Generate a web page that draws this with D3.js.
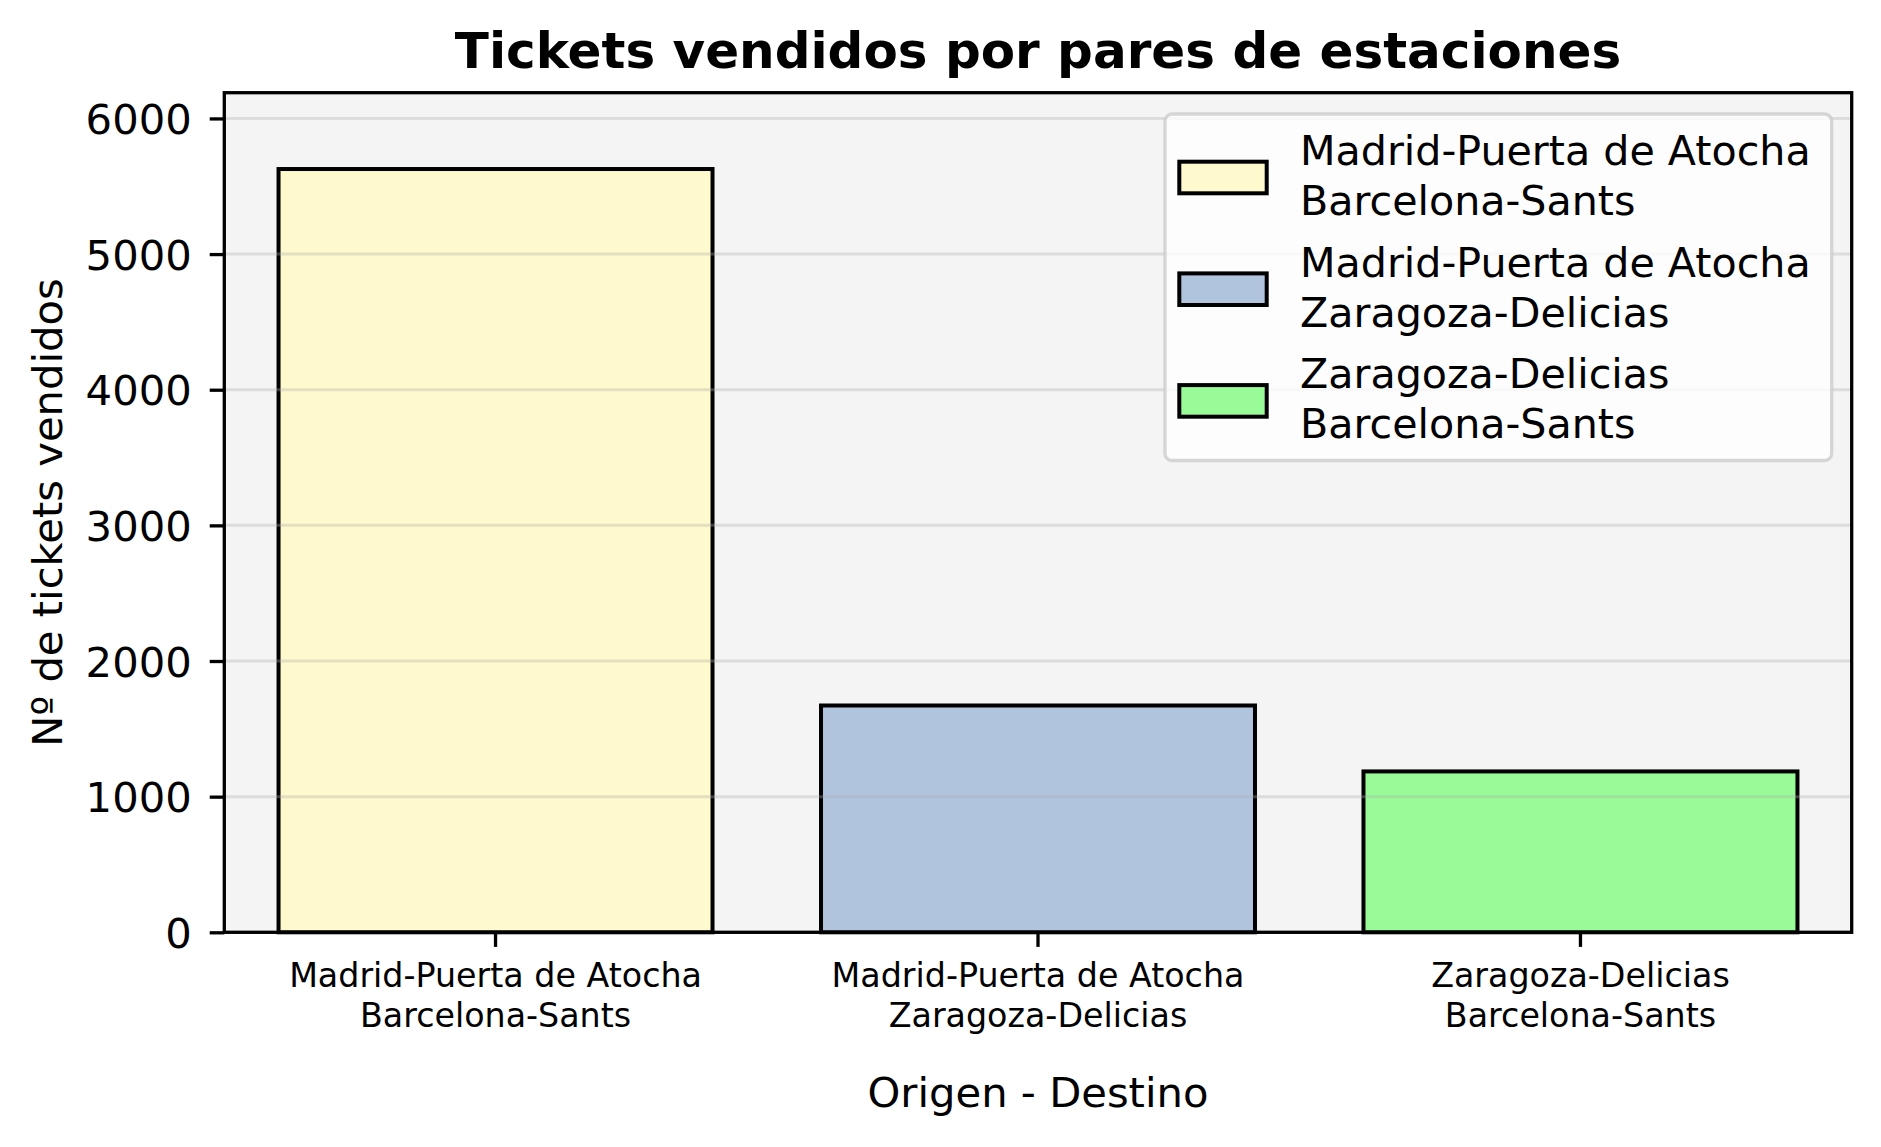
<!DOCTYPE html>
<html><head><meta charset="utf-8">
<script src="https://cdn.jsdelivr.net/npm/d3@7"></script>
<style>
body{margin:0;background:#fff;}
text{font-family:"DejaVu Sans",sans-serif;fill:#000;}
</style>
</head><body>
<svg id="c" width="1881" height="1147"></svg>
<script>
const categories = ["Madrid-Puerta de Atocha\nBarcelona-Sants", "Madrid-Puerta de Atocha\nZaragoza-Delicias", "Zaragoza-Delicias\nBarcelona-Sants"];
const tickets = [5627, 1672, 1186];
const barColors = ["#fffacd", "#b0c4de", "#98fb98"];
const yTicks = [0, 1000, 2000, 3000, 4000, 5000, 6000];
const titleText = "Tickets vendidos por pares de estaciones";
const xLabelText = "Origen - Destino";
const yLabelText = "Nº de tickets vendidos";

const L = 224.3, R = 1851.7, T = 92.7, B = 932.3;
const svg = d3.select("#c");

const x = d3.scaleBand().domain(categories).range([L, R]).paddingInner(0.2).paddingOuter(0.1);
const y = d3.scaleLinear().domain([0, d3.max(tickets) * 1.1]).range([B, T]);

// axes background
svg.append("rect").attr("x", L).attr("y", T).attr("width", R - L).attr("height", B - T).attr("fill", "#f4f4f4");

// bars
svg.append("g").selectAll("rect").data(categories).join("rect")
  .attr("x", d => x(d))
  .attr("y", (d, i) => y(tickets[i]))
  .attr("width", x.bandwidth())
  .attr("height", (d, i) => y(0) - y(tickets[i]))
  .attr("fill", (d, i) => barColors[i])
  .attr("stroke", "#000").attr("stroke-width", 4);

// grid (above bars, like matplotlib)
svg.append("g").selectAll("line").data(yTicks).join("line")
  .attr("x1", L).attr("x2", R)
  .attr("y1", d => y(d)).attr("y2", d => y(d))
  .attr("stroke", "#b0b0b0").attr("stroke-opacity", 0.35).attr("stroke-width", 3);

// y axis
const yAxis = svg.append("g").attr("transform", `translate(${L},0)`)
  .call(d3.axisLeft(y).tickValues(yTicks).tickSize(14.6).tickPadding(18).tickFormat(d3.format("d")));
yAxis.select(".domain").remove();
yAxis.selectAll(".tick line").attr("stroke", "#000").attr("stroke-width", 3.3);
yAxis.selectAll(".tick text").attr("font-size", "41.7px").attr("font-family", "DejaVu Sans").attr("dy", "0.36em");

// x axis
const xAxis = svg.append("g").attr("transform", `translate(0,${B})`)
  .call(d3.axisBottom(x).tickSize(14.6).tickFormat(""));
xAxis.select(".domain").remove();
xAxis.selectAll(".tick line").attr("stroke", "#000").attr("stroke-width", 3.3);
xAxis.selectAll(".tick text").remove();
xAxis.selectAll(".tick").each(function(d) {
  const t = d3.select(this).append("text").attr("text-anchor", "middle")
    .attr("font-size", "33.3px").attr("font-family", "DejaVu Sans").attr("fill", "#000");
  d.split("\n").forEach((line, i) => {
    t.append("tspan").attr("x", 0).attr("y", 55 + i * 39.5).text(line);
  });
});

// spines
svg.append("rect").attr("x", L).attr("y", T).attr("width", R - L).attr("height", B - T)
  .attr("fill", "none").attr("stroke", "#000").attr("stroke-width", 3.3);

// legend
const lg = svg.append("g");
lg.append("rect").attr("x", 1165).attr("y", 114).attr("width", 666.7).attr("height", 346.5)
  .attr("rx", 7).attr("fill", "#fff").attr("fill-opacity", 0.8)
  .attr("stroke", "#cccccc").attr("stroke-opacity", 0.8).attr("stroke-width", 3.3);
categories.forEach((c, i) => {
  const oy = i * 111.7;
  lg.append("rect").attr("x", 1179.3).attr("y", 161.7 + oy).attr("width", 87.4).attr("height", 31.6)
    .attr("fill", barColors[i]).attr("stroke", "#000").attr("stroke-width", 4);
  const t = lg.append("text").attr("font-size", "41.2px").attr("font-family", "DejaVu Sans");
  c.split("\n").forEach((line, j) => {
    t.append("tspan").attr("x", 1300).attr("y", 165 + oy + j * 50).text(line);
  });
});

// title and labels
svg.append("text").attr("x", (L + R) / 2).attr("y", 68.3).attr("text-anchor", "middle")
  .attr("font-size", "50px").attr("font-weight", "bold").text(titleText);
svg.append("text").attr("x", (L + R) / 2).attr("y", 1107.3).attr("text-anchor", "middle")
  .attr("font-size", "41.7px").text(xLabelText);
svg.append("text").attr("transform", `translate(61.7,${(T + B) / 2}) rotate(-90)`).attr("text-anchor", "middle")
  .attr("font-size", "41.7px").text(yLabelText);
</script>
</body></html>
